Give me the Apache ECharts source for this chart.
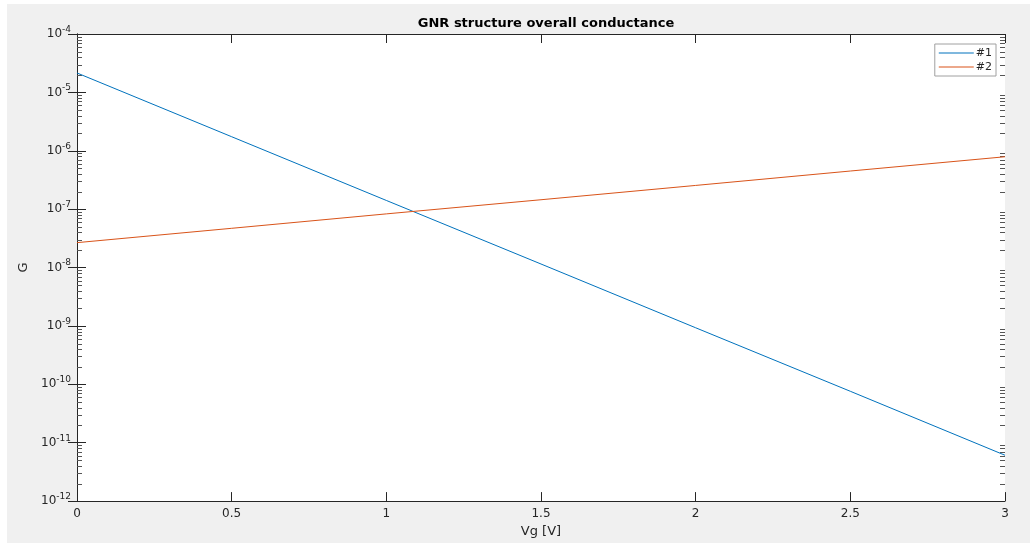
<!DOCTYPE html>
<html>
<head>
<meta charset="utf-8">
<script src="https://cdn.jsdelivr.net/npm/echarts@6/dist/echarts.min.js"></script>
<style>
html,body{margin:0;padding:0;background:#f0f0f0;overflow:hidden;}
#chart{position:absolute;left:0;top:0;width:1030px;height:543px;}
#sl{position:absolute;left:0;top:0;width:7px;height:543px;background:#fff;z-index:5;}
#st{position:absolute;left:0;top:0;width:1030px;height:4px;background:#fff;z-index:5;}
</style>
</head>
<body>
<div id="chart"></div><div id="sl"></div><div id="st"></div>
<script>
// ---- data ----
const vg = [0, 0.5, 1, 1.5, 2, 2.5, 3];
const g1 = [2.15e-5, 1.74e-6, 1.41e-7, 1.15e-8, 9.3e-10, 7.6e-11, 6.1e-12];
const g2 = [2.67e-8, 4.7e-8, 8.3e-8, 1.45e-7, 2.55e-7, 4.5e-7, 7.9e-7];
const seriesNames = ['#1', '#2'];
const yExpMin = -12, yExpMax = -4;
const title = 'GNR structure overall conductance';
const xLabel = 'Vg [V]';
const yLabel = 'G';

// minor tick values 2..9 x 10^n
const minorVals = [];
for (let e = yExpMin; e < yExpMax; e++) {
  for (let m = 2; m <= 9; m++) minorVals.push(m * Math.pow(10, e));
}

const axisColor = '#262626';
const font = 'DejaVu Sans';

const chart = echarts.init(document.getElementById('chart'), null, {renderer: 'canvas'});

function pairs(xs, ys) { return xs.map((x, i) => [x, ys[i]]); }

const option = {
  backgroundColor: '#f0f0f0',
  animation: false,
  textStyle: {fontFamily: font},
  title: {
    text: title,
    left: 541, top: 12, textAlign: 'center',
    textStyle: {fontSize: 13, fontWeight: 'bold', color: '#000', fontFamily: font}
  },
  grid: {left: 77, right: 25, top: 34, bottom: 41, show: true, backgroundColor: '#ffffff', borderWidth: 0},
  legend: {
    data: seriesNames,
    orient: 'vertical',
    right: 34, top: 44,
    icon: 'rect',
    itemWidth: 35, itemHeight: 1, itemGap: 2,
    padding: [3, 4, 3, 4],
    backgroundColor: '#ffffff',
    borderColor: '#a0a0a0', borderWidth: 1,
    textStyle: {fontSize: 11, color: axisColor, fontFamily: font, padding: [0, 0, 0, -3], lineHeight: 12}
  },
  xAxis: [{
    type: 'value', min: 0, max: 3, interval: 0.5,
    name: xLabel, nameLocation: 'middle', nameGap: 21,
    nameTextStyle: {fontSize: 13, color: axisColor, fontFamily: font},
    axisLine: {show: true, lineStyle: {color: axisColor, width: 1}},
    axisTick: {show: true, inside: true, length: 9, lineStyle: {color: axisColor}},
    axisLabel: {fontSize: 12, color: axisColor, margin: 7, fontFamily: font,
      formatter: v => String(v)},
    splitLine: {show: false}
  }, {
    type: 'value', min: 0, max: 3, interval: 0.5, position: 'top',
    axisLine: {show: true, lineStyle: {color: axisColor, width: 1}},
    axisTick: {show: true, inside: true, length: 9, lineStyle: {color: axisColor}},
    axisLabel: {show: false}, splitLine: {show: false}
  }],
  yAxis: [{
    type: 'log', logBase: 10, min: Math.pow(10, yExpMin), max: Math.pow(10, yExpMax),
    name: yLabel, nameLocation: 'middle', nameGap: 40, nameRotate: 90,
    nameTextStyle: {fontSize: 13, color: axisColor, fontFamily: font},
    axisLine: {show: true, lineStyle: {color: axisColor, width: 1}},
    axisTick: {show: true, inside: true, length: 9, lineStyle: {color: axisColor}},
    axisLabel: {
      fontSize: 12, color: axisColor, margin: 6, fontFamily: font,
      formatter: v => '10{sup|' + Math.round(Math.log10(v)) + '}',
      rich: {sup: {fontSize: 9, color: axisColor, fontFamily: font, padding: [0, 0, 9, 0]}}
    },
    splitLine: {show: false}
  }, {
    type: 'log', logBase: 10, min: Math.pow(10, yExpMin), max: Math.pow(10, yExpMax), position: 'right',
    axisLine: {show: true, lineStyle: {color: axisColor, width: 1}},
    axisTick: {show: true, inside: true, length: 9, lineStyle: {color: axisColor}},
    axisLabel: {show: false}, splitLine: {show: false}
  }],
  series: [{
    name: seriesNames[0], type: 'line', data: pairs(vg, g1),
    symbol: 'none', lineStyle: {color: '#0072BD', width: 1}, itemStyle: {color: '#0072BD'}
  }, {
    name: seriesNames[1], type: 'line', data: pairs(vg, g2),
    symbol: 'none', lineStyle: {color: '#D95319', width: 1}, itemStyle: {color: '#D95319'}
  }, {
    type: 'custom', silent: true, z: 1,
    data: minorVals.map(v => [0, v]),
    renderItem: function (params, api) {
      const p = api.coord([0, api.value(1)]);
      const cs = params.coordSys;
      const y = Math.round(p[1]) + 0.5;
      return {type: 'group', children: [
        {type: 'line', shape: {x1: cs.x, y1: y, x2: cs.x + 5, y2: y}, style: {stroke: '#555', lineWidth: 1}},
        {type: 'line', shape: {x1: cs.x + cs.width - 5, y1: y, x2: cs.x + cs.width, y2: y}, style: {stroke: '#555', lineWidth: 1}}
      ]};
    }
  }]
};
chart.setOption(option);
</script>
</body>
</html>
